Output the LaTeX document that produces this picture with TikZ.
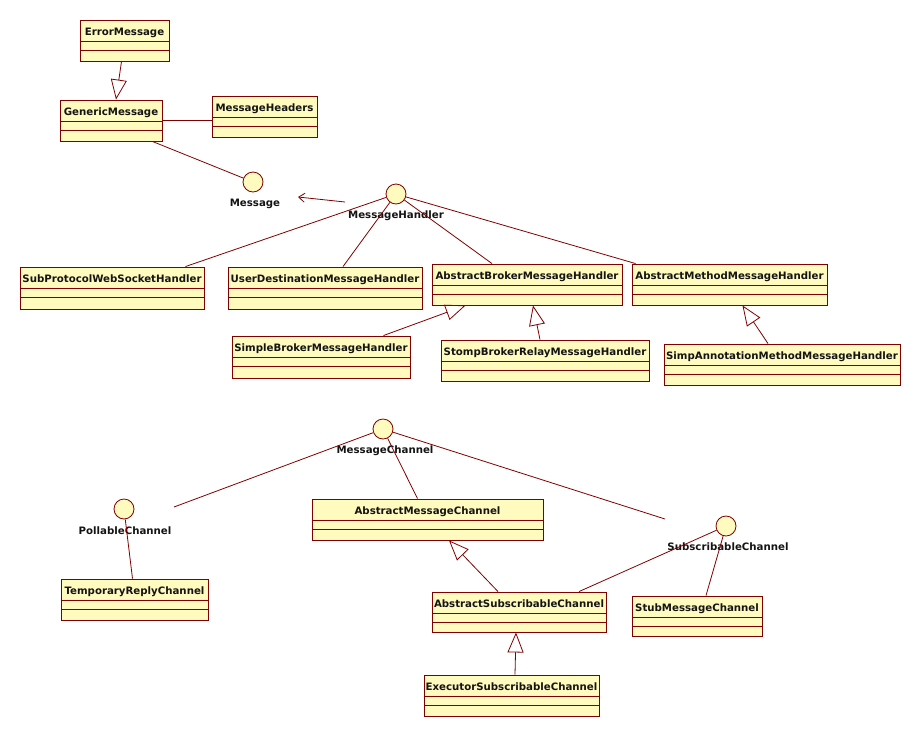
\documentclass[tikz,border=0pt]{standalone}
\usepackage{fontspec}
\setmainfont{DejaVu Sans}
\usetikzlibrary{arrows.meta,fit}
\definecolor{umlfill}{RGB}{255,250,190}
\definecolor{umlline}{RGB}{128,0,0}
\definecolor{umltext}{RGB}{20,20,20}
\tikzset{
  clsbox/.style={draw=umlline, fill=umlfill, line width=0.9pt, inner sep=0pt, rectangle},
  clstext/.style={font=\bfseries\fontsize{10.2}{12}\selectfont, text=umltext, inner sep=0pt, anchor=base},
  iface/.style={circle, draw=umlline, fill=umlfill, line width=0.8pt, minimum size=20pt, inner sep=0pt},
  lbl/.style={font=\bfseries\fontsize{10.2}{12}\selectfont, text=umltext, inner sep=0pt},
  assoc/.style={draw=umlline, line width=0.8pt},
  gen/.style={draw=umlline, line width=0.8pt, -{Triangle[open, length=20pt, width=16pt, line width=0.8pt]}},
  dep/.style={draw=umlline, line width=0.8pt, -{Straight Barb[length=6pt, width=9pt, line width=0.8pt]}}
}
% #1 name, #2 left, #3 top, #4 right, #5 bottom, #6 text
\newcommand{\umlclass}[6]{%
  \node[clsbox, fit={(#2,#3) (#4,#5)}] (#1) {};
  \draw[umlline, line width=0.9pt] ([yshift=-22pt]#1.north west) -- ([yshift=-22pt]#1.north east);
  \draw[umlline, line width=0.9pt] ([yshift=-31pt]#1.north west) -- ([yshift=-31pt]#1.north east);
  \node[clstext] (#1-t) at ([yshift=-15.5pt]#1.north) {#6};
}
\begin{document}
\begin{tikzpicture}[x=1pt, y=-1pt]
\useasboundingbox[fill=white] (0,0) rectangle (921,737);

% classes
\umlclass{em}{80}{20}{169}{61}{ErrorMessage}
\umlclass{gm}{60}{100}{162}{141}{GenericMessage}
\umlclass{mh}{212}{96}{317}{137}{MessageHeaders}
\umlclass{sp}{20}{267}{204}{309}{SubProtocolWebSocketHandler}
\umlclass{ud}{228}{267}{422}{309}{UserDestinationMessageHandler}
\umlclass{ab}{432}{264}{622}{305}{AbstractBrokerMessageHandler}
\umlclass{am}{632}{264}{827}{305}{AbstractMethodMessageHandler}
\umlclass{sb}{232}{336}{410}{378}{SimpleBrokerMessageHandler}
\umlclass{st}{441}{340}{649}{381}{StompBrokerRelayMessageHandler}
\umlclass{sa}{664}{344}{900}{385}{SimpAnnotationMethodMessageHandler}
\umlclass{amc}{312}{499}{543}{540}{AbstractMessageChannel}
\umlclass{tr}{61}{579}{208}{620}{TemporaryReplyChannel}
\umlclass{asc}{432}{592}{606}{632}{AbstractSubscribableChannel}
\umlclass{smc}{632}{596}{762}{636}{StubMessageChannel}
\umlclass{esc}{424}{675}{599}{716}{ExecutorSubscribableChannel}

% interfaces
\node[iface] (msg) at (253,182) {};
\node[lbl] (msg-l) at (255,204) {Message};
\node[iface] (mhd) at (396,194) {};
\node[lbl] (mhd-l) at (396,216) {MessageHandler};
\node[iface] (mc) at (383,429) {};
\node[lbl] (mc-l) at (385,451) {MessageChannel};
\node[iface] (pc) at (124,509) {};
\node[lbl] (pc-l) at (125,531) {PollableChannel};
\node[iface] (sc) at (726,526) {};
\node[lbl] (sc-l) at (728,547) {SubscribableChannel};

% free ends
\coordinate (dep-s) at (345,202);
\coordinate (dep-e) at (298,197);
\coordinate (mc-pe) at (174,507);
\coordinate (mc-se) at (665,519);

% connectors
\draw[gen] ([xshift=-3pt]em.south) -- ([xshift=5pt]gm.north);
\draw[assoc] (gm.east) -- (mh.west |- gm.east);
\draw[assoc] ([xshift=-10pt]gm.south east) -- (msg);
\draw[dep] (dep-s) -- (dep-e);

\draw[assoc] (mhd) -- ([xshift=-19pt]sp.north east);
\draw[assoc] (mhd) -- ([xshift=18pt]ud.north);
\draw[assoc] (mhd) -- ([xshift=-35pt]ab.north);
\draw[assoc] (mhd) -- ([xshift=4pt]am.north west);

\draw[gen] ([xshift=-27pt]sb.north east) -- ([xshift=34pt]ab.south west);
\draw[gen] ([xshift=-5pt]st.north) -- ([xshift=6pt]ab.south);
\draw[gen] ([xshift=-14pt]sa.north) -- ([xshift=13pt]am.south);

\draw[assoc] (mc) -- (mc-pe);
\draw[assoc] (mc) -- ([xshift=-10pt]amc.north);
\draw[assoc] (mc) -- (mc-se);
\draw[assoc] (pc) -- ([xshift=-2pt]tr.north);

\draw[gen] ([xshift=-21pt]asc.north) -- ([xshift=21.5pt]amc.south);
\draw[assoc] (sc) -- ([xshift=60pt]asc.north);
\draw[assoc] (sc) -- ([xshift=9pt]smc.north);
\draw[gen] ([xshift=3.5pt]esc.north) -- ([xshift=-3pt]asc.south);
\end{tikzpicture}
\end{document}
